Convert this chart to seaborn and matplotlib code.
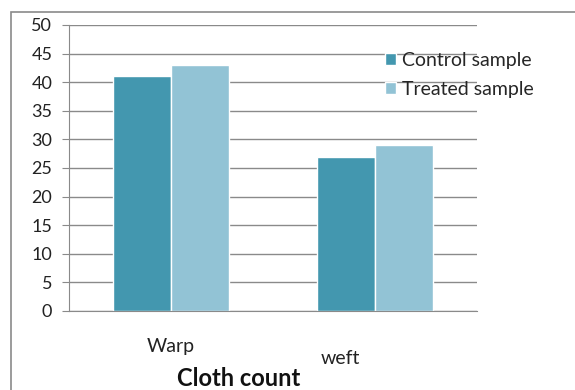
import matplotlib
matplotlib.use("Agg")
import matplotlib.pyplot as plt
import matplotlib.patches as mpatches
import matplotlib.transforms as mtransforms
import seaborn as sns
import pandas as pd

categories = ["Warp", "weft"]
control_sample = [41, 27]
treated_sample = [43, 29]
series_names = ["Control sample", "Treated sample"]
y_ticks = [0, 5, 10, 15, 20, 25, 30, 35, 40, 45, 50]

df = pd.DataFrame({
    "category": categories * 2,
    "value": control_sample + treated_sample,
    "series": [series_names[0]] * len(categories) + [series_names[1]] * len(categories),
})

sns.set_style("white")
plt.rcParams["font.family"] = ["Lato", "DejaVu Sans"]

fig = plt.figure(figsize=(5.75, 3.9), dpi=100)
ax = fig.add_axes([0.12, 0.2026, 0.7096, 0.7333])

palette = {series_names[0]: "#4397AF", series_names[1]: "#92C3D5"}
sns.barplot(data=df, x="category", y="value", hue="series", palette=palette,
            width=0.57, saturation=1, ax=ax, legend=True)

ax.set_ylim(0, 50)
ax.set_yticks(y_ticks)
ax.yaxis.grid(True, color="#8a8a8a", linewidth=1.0)
ax.set_axisbelow(True)
for s in ["top", "right"]:
    ax.spines[s].set_visible(False)
ax.spines["left"].set_color("#8a8a8a")
ax.spines["bottom"].set_color("#8a8a8a")
ax.tick_params(axis="y", left=True, length=5, color="#8a8a8a", labelsize=13,
               labelcolor="#222222", pad=7)
ax.tick_params(axis="x", bottom=False, labelsize=14, labelcolor="#222222", pad=16)
ax.set_ylabel("")
ax.set_xlabel("Cloth count", fontsize=17, fontweight="bold", color="#111111")
ax.xaxis.set_label_coords(0.415, -0.197)

# the second category label sits a little lower and to the left
labels = ax.get_xticklabels()
labels[1].set_transform(labels[1].get_transform() +
                        mtransforms.ScaledTranslation(-0.35, -0.12, fig.dpi_scale_trans))

leg = ax.legend(loc="upper left", bbox_to_anchor=(0.7745, 0.905), frameon=False,
                fontsize=14, handlelength=0.55, handleheight=0.55, handletextpad=0.3,
                labelspacing=0.62, borderaxespad=0, borderpad=0)

# outer chart frame
frame = mpatches.Rectangle((11 / 575, -0.2), 1.2, 0.2 + (1 - 12 / 390),
                           transform=fig.transFigure, fill=False,
                           edgecolor="#8a8a8a", linewidth=1.2, clip_on=False)
fig.patches.append(frame)

fig.savefig("out.png", dpi=100)
